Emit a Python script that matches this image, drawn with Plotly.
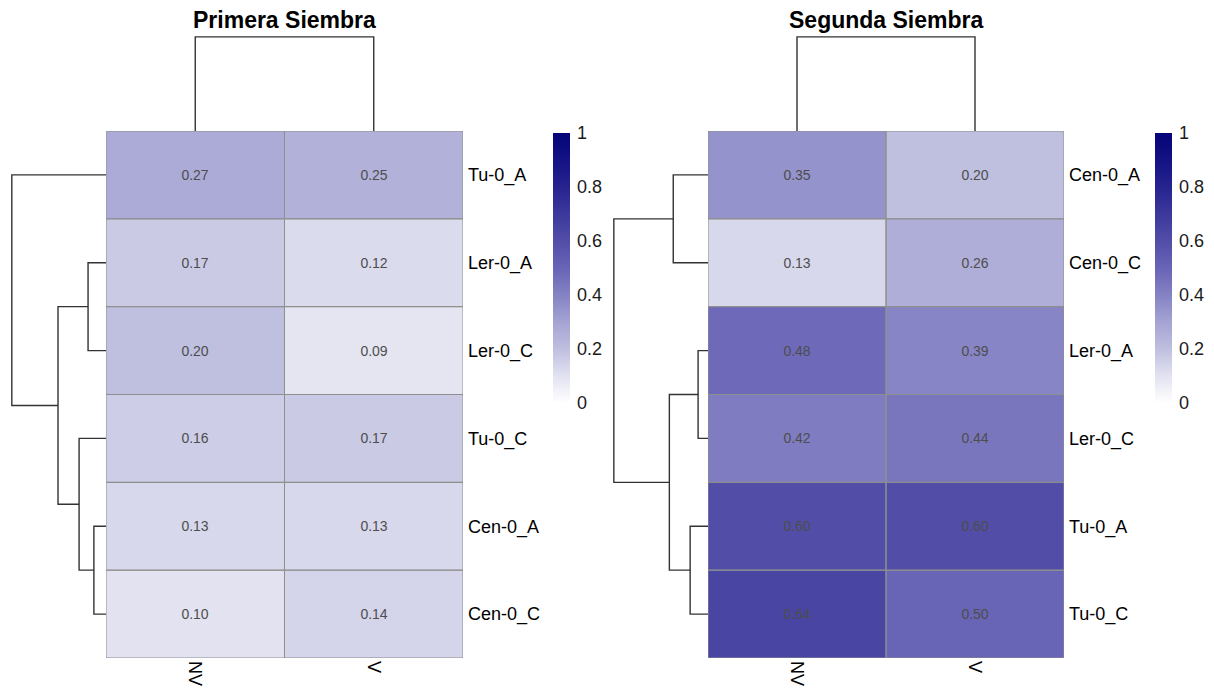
import plotly.graph_objects as go

# ---- data -------------------------------------------------------------
columns = ["NV", "V"]

rows_1 = ["Tu-0_A", "Ler-0_A", "Ler-0_C", "Tu-0_C", "Cen-0_A", "Cen-0_C"]
nv_1 = [0.27, 0.17, 0.20, 0.16, 0.13, 0.10]
v_1 = [0.25, 0.12, 0.09, 0.17, 0.13, 0.14]
# row clustering: (child a, child b, merge height); ints refer to earlier merges
row_merges_1 = [("Cen-0_A", "Cen-0_C", 0.027),
                ("Ler-0_A", "Ler-0_C", 0.040),
                ("Tu-0_C", 0, 0.060),
                (1, 2, 0.107),
                ("Tu-0_A", 3, 0.210)]
col_merges_1 = [("NV", "V", 0.129)]

rows_2 = ["Cen-0_A", "Cen-0_C", "Ler-0_A", "Ler-0_C", "Tu-0_A", "Tu-0_C"]
nv_2 = [0.35, 0.13, 0.48, 0.42, 0.60, 0.64]
v_2 = [0.20, 0.26, 0.39, 0.44, 0.60, 0.50]
row_merges_2 = [("Cen-0_A", "Cen-0_C", 0.214),
                ("Ler-0_A", "Ler-0_C", 0.061),
                ("Tu-0_A", "Tu-0_C", 0.110),
                (1, 2, 0.238),
                (0, 3, 0.580)]
col_merges_2 = [("NV", "V", 0.260)]

titles = ["Primera Siembra", "Segunda Siembra"]
cbar_ticks = [0, 0.2, 0.4, 0.6, 0.8, 1]

# ---- styling ----------------------------------------------------------
W, H = 1214, 691
FONT = "Liberation Sans, Arial, sans-serif"
colorscale = [
    [0.0, "rgb(255,255,255)"], [0.1, "rgb(226,226,241)"],
    [0.2, "rgb(191,191,224)"], [0.3, "rgb(164,163,211)"],
    [0.4, "rgb(133,130,196)"], [0.5, "rgb(104,100,182)"],
    [0.6, "rgb(82,78,168)"], [0.7, "rgb(60,56,156)"],
    [0.8, "rgb(38,35,144)"], [0.9, "rgb(20,18,132)"],
    [1.0, "rgb(4,4,120)"],
]
BORDER = "#8f8f8f"
TREE = "#333333"


def fx(px):
    return px / W


def fy(py):
    return 1 - py / H


def dendro(order, merges):
    """Return (positions, heights) polyline lists for a dendrogram."""
    pos = {name: i for i, name in enumerate(order)}
    hgt = {name: 0.0 for name in order}
    p_out, h_out = [], []
    for k, (a, b, h) in enumerate(merges):
        pa, pb = pos[a], pos[b]
        p_out += [pa, pa, pb, pb, None]
        h_out += [hgt[a], h, h, hgt[b], None]
        pos[k] = (pa + pb) / 2
        hgt[k] = h
    return p_out, h_out, max(m[2] for m in merges)


panels = [
    dict(rows=rows_1, nv=nv_1, v=v_1, rm=row_merges_1, cm=col_merges_1,
         left=106, right=463, cbx=553, ca="coloraxis"),
    dict(rows=rows_2, nv=nv_2, v=v_2, rm=row_merges_2, cm=col_merges_2,
         left=708, right=1064, cbx=1155, ca="coloraxis2"),
]
TOP, BOTTOM = 131, 658
TREE_W = 97

fig = go.Figure()
layout = dict(width=W, height=H, margin=dict(l=0, r=0, t=0, b=0),
              paper_bgcolor="white", plot_bgcolor="white",
              font=dict(family=FONT, color="black"), showlegend=False,
              shapes=[], annotations=[])

for p_i, pnl in enumerate(panels):
    n = 3 * p_i
    hx, hy = f"x{n + 1 if n else ''}", f"y{n + 1 if n else ''}"
    rx, ry = f"x{n + 2}", f"y{n + 2}"
    cx, cy = f"x{n + 3}", f"y{n + 3}"
    ax = lambda s: s.replace("x", "xaxis").replace("y", "yaxis")

    nrow = len(pnl["rows"])
    z = [[a, b] for a, b in zip(pnl["nv"], pnl["v"])]
    fig.add_trace(go.Heatmap(
        z=z, x=list(range(len(columns))), y=list(range(nrow)),
        coloraxis=pnl["ca"], xaxis=hx, yaxis=hy,
        texttemplate="%{z:.2f}",
        textfont=dict(size=14, color="#4d4d4d", family=FONT),
        hoverinfo="skip"))

    # cell borders
    for i in range(nrow):
        for j in range(len(columns)):
            layout["shapes"].append(dict(
                type="rect", xref=hx, yref=hy,
                x0=j - 0.5, x1=j + 0.5, y0=i - 0.5, y1=i + 0.5,
                line=dict(color=BORDER, width=1), layer="above"))

    # row dendrogram
    rp, rh, rmax = dendro(pnl["rows"], pnl["rm"])
    fig.add_trace(go.Scatter(x=rh, y=rp, mode="lines", xaxis=rx, yaxis=ry,
                             line=dict(color=TREE, width=1.4),
                             hoverinfo="skip"))
    # column dendrogram
    cp, ch, cmax = dendro(columns, pnl["cm"])
    fig.add_trace(go.Scatter(x=cp, y=ch, mode="lines", xaxis=cx, yaxis=cy,
                             line=dict(color=TREE, width=1.4),
                             hoverinfo="skip"))

    hdom_x = [fx(pnl["left"]), fx(pnl["right"])]
    hdom_y = [fy(BOTTOM), fy(TOP)]
    xr = [-0.5, len(columns) - 0.5]
    yr = [nrow - 0.5, -0.5]

    layout[ax(hx)] = dict(domain=hdom_x, range=xr, anchor=hy,
                          tickvals=list(range(len(columns))),
                          ticktext=columns, tickangle=90, ticks="",
                          ticklabelstandoff=2,
                          tickfont=dict(size=18, color="black"),
                          showgrid=False, zeroline=False, showline=False)
    layout[ax(hy)] = dict(domain=hdom_y, range=yr, anchor=hx, side="right",
                          tickvals=list(range(nrow)), ticktext=pnl["rows"],
                          ticks="", ticklabelstandoff=4,
                          tickfont=dict(size=18, color="black"),
                          showgrid=False, zeroline=False, showline=False)
    layout[ax(rx)] = dict(domain=[fx(pnl["left"] - TREE_W), fx(pnl["left"])],
                          range=[rmax * 1.03, 0], anchor=ry, visible=False)
    layout[ax(ry)] = dict(domain=hdom_y, range=yr, anchor=rx, visible=False)
    layout[ax(cx)] = dict(domain=hdom_x, range=xr, anchor=cy, visible=False)
    layout[ax(cy)] = dict(domain=[fy(TOP), fy(TOP - TREE_W)],
                          range=[0, cmax * 1.03], anchor=cx, visible=False)

    layout[pnl["ca"]] = dict(
        cmin=0, cmax=1, colorscale=colorscale,
        colorbar=dict(x=fx(pnl["cbx"]), xanchor="left", xpad=0,
                      y=fy(133), yanchor="top", ypad=0,
                      len=270, lenmode="pixels", thickness=17,
                      outlinewidth=0, ticks="outside", ticklen=4,
                      tickcolor="rgba(0,0,0,0)",
                      tickvals=cbar_ticks,
                      ticktext=[f"{t:g}" for t in cbar_ticks],
                      tickfont=dict(size=18, color="#1a1a1a", family=FONT)))

    layout["annotations"].append(dict(
        text=f"<b>{titles[p_i]}</b>", xref="paper", yref="paper",
        x=(hdom_x[0] + hdom_x[1]) / 2, y=fy(20), xanchor="center",
        yanchor="middle", showarrow=False,
        font=dict(size=23, color="black", family=FONT)))

fig.update_layout(**layout)
fig.write_html("out.html")
